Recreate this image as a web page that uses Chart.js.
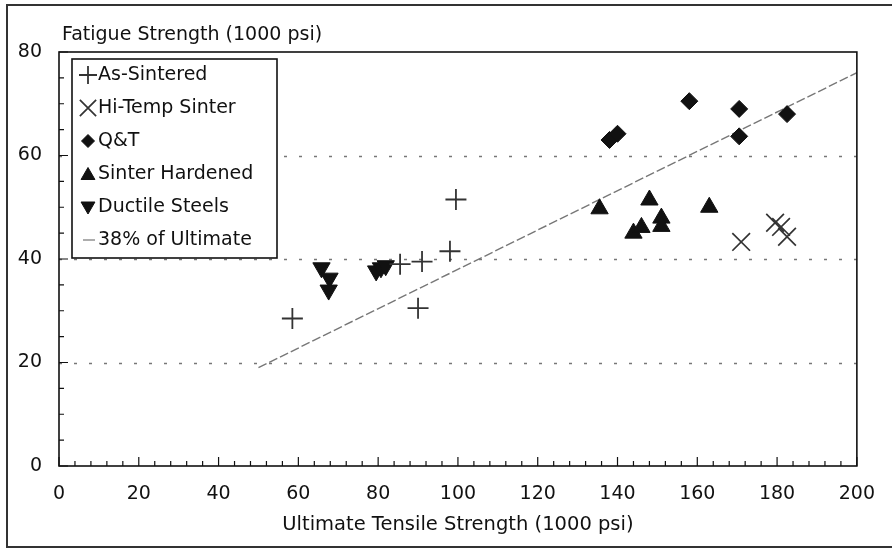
<!DOCTYPE html>
<html>
<head>
<meta charset="utf-8">
<script src="https://cdn.jsdelivr.net/npm/chart.js@4/dist/chart.umd.min.js"></script>
<style>
  html, body { margin: 0; padding: 0; background: #fff; }
  #wrap { width: 892px; height: 550px; }
</style>
</head>
<body>
<div id="wrap"><canvas id="fatigue" width="892" height="550"></canvas></div>
<script>
// data (1000 psi)
const asSinteredX = [58.5, 85.5, 91, 90, 98, 99.5];
const asSinteredY = [28.5, 39, 39.5, 30.5, 41.5, 51.5];
const hiTempX = [171, 179.5, 181, 182.5];
const hiTempY = [43.3, 47, 46.2, 44.3];
const qtX = [138, 140, 158, 170.5, 170.5, 182.5];
const qtY = [63, 64.2, 70.5, 69, 63.7, 68];
const sinterX = [135.5, 144, 146, 148, 151, 151, 163];
const sinterY = [49.7, 45, 46.1, 51.4, 47.9, 46.3, 50];
const ductileX = [65.8, 67.8, 67.6, 79.5, 80.7, 81.9];
const ductileY = [38.3, 36.3, 34, 37.7, 38.3, 38.7];
const ultimateX = [50, 200];
const ultimateY = [19, 76];

const xTicks = [0, 20, 40, 60, 80, 100, 120, 140, 160, 180, 200];
const yTicks = [0, 20, 40, 60, 80];

const FONT = '"DejaVu Sans", "Liberation Sans", Arial, sans-serif';
const INK = '#111';

function pts(xs, ys) {
    return xs.map((x, i) => ({ x: x, y: ys[i] }));
}

const markStyle = {
    plus:  { pointStyle: 'cross', radius: 10.5, legendRadius: 9, borderColor: '#333', backgroundColor: 'transparent', borderWidth: 1.8 },
    ex:    { pointStyle: 'crossRot', radius: 12.5, legendRadius: 11.5, borderColor: '#333', backgroundColor: 'transparent', borderWidth: 1.7 },
    diam:  { pointStyle: 'rectRot', radius: 8.5, legendRadius: 6.5, borderColor: '#111', backgroundColor: '#111', borderWidth: 1 },
    up:    { pointStyle: 'triangle', radius: 10, legendRadius: 8, borderColor: '#111', backgroundColor: '#111', borderWidth: 1 },
    down:  { pointStyle: 'triangle', rotation: 180, radius: 10, legendRadius: 8, borderColor: '#111', backgroundColor: '#111', borderWidth: 1 }
};

function scatterSet(label, xs, ys, m) {
    return {
        type: 'scatter',
        label: label,
        data: pts(xs, ys),
        pointStyle: m.pointStyle,
        rotation: m.rotation || 0,
        pointRadius: m.radius,
        pointBorderColor: m.borderColor,
        pointBackgroundColor: m.backgroundColor,
        pointBorderWidth: m.borderWidth,
        borderColor: m.borderColor,
        backgroundColor: m.backgroundColor,
        legendMark: m
    };
}

const datasets = [
    scatterSet('As-Sintered', asSinteredX, asSinteredY, markStyle.plus),
    scatterSet('Hi-Temp Sinter', hiTempX, hiTempY, markStyle.ex),
    scatterSet('Q\u0026T', qtX, qtY, markStyle.diam),
    scatterSet('Sinter Hardened', sinterX, sinterY, markStyle.up),
    scatterSet('Ductile Steels', ductileX, ductileY, markStyle.down),
    {
        type: 'line',
        label: '38% of Ultimate',
        data: pts(ultimateX, ultimateY),
        borderColor: '#777',
        borderWidth: 1.4,
        borderDash: [9, 3],
        pointRadius: 0,
        fill: false,
        tension: 0,
        order: 10
    }
];

// frame, dotted grid, inward ticks, inside legend and the top-left axis title
const decorPlugin = {
    id: 'decor',
    beforeDraw(chart) {
        const ctx = chart.ctx;
        ctx.save();
        ctx.fillStyle = '#fff';
        ctx.fillRect(0, 0, chart.width, chart.height);
        ctx.strokeStyle = '#333';
        ctx.lineWidth = 2;
        ctx.strokeRect(7, 5, chart.width + 10, 542);
        ctx.restore();
    },
    beforeDatasetsDraw(chart) {
        const ctx = chart.ctx;
        const a = chart.chartArea;
        const ys = chart.scales.y;
        ctx.save();
        ctx.strokeStyle = '#777';
        ctx.lineWidth = 1.5;
        ctx.setLineDash([3, 12]);
        ys.ticks.forEach(t => {
            if (t.value <= ys.min || t.value >= ys.max) return;
            const py = Math.round(ys.getPixelForValue(t.value)) + 0.5;
            ctx.beginPath();
            ctx.moveTo(a.left, py);
            ctx.lineTo(a.right, py);
            ctx.stroke();
        });
        ctx.restore();
    },
    afterDraw(chart) {
        const ctx = chart.ctx;
        const a = chart.chartArea;
        const xs = chart.scales.x;
        const ys = chart.scales.y;
        ctx.save();

        // plot frame
        ctx.strokeStyle = '#111';
        ctx.lineWidth = 1.6;
        ctx.strokeRect(a.left, a.top, a.right - a.left, a.bottom - a.top);

        // inward tick marks
        ctx.lineWidth = 1.2;
        ctx.beginPath();
        for (let v = xs.min; v <= xs.max; v += 4) {
            const px = xs.getPixelForValue(v);
            const len = v % 20 === 0 ? 9 : 5;
            ctx.moveTo(px, a.bottom);
            ctx.lineTo(px, a.bottom - len);
        }
        for (let v = ys.min; v <= ys.max; v += 5) {
            const py = ys.getPixelForValue(v);
            const len = v % 20 === 0 ? 9 : 5;
            ctx.moveTo(a.left, py);
            ctx.lineTo(a.left + len, py);
        }
        ctx.stroke();

        // y axis title, written across the top
        ctx.fillStyle = INK;
        ctx.font = '19px ' + FONT;
        ctx.textAlign = 'left';
        ctx.textBaseline = 'middle';
        ctx.fillText('Fatigue Strength (1000 psi)', a.left + 3, a.top - 17);

        // legend box
        const bx = a.left + 13, by = a.top + 7, bw = 205, bh = 199;
        ctx.fillStyle = '#fff';
        ctx.fillRect(bx, by, bw, bh);
        ctx.strokeStyle = '#111';
        ctx.lineWidth = 1.6;
        ctx.strokeRect(bx, by, bw, bh);

        const rowH = 33;
        chart.data.datasets.forEach((ds, i) => {
            const cy = by + 16 + i * rowH;
            const mx = bx + 16;
            const m = ds.legendMark;
            if (m) {
                ctx.strokeStyle = m.borderColor;
                ctx.fillStyle = m.backgroundColor;
                ctx.lineWidth = m.borderWidth;
                Chart.helpers.drawPoint(ctx, {
                    pointStyle: m.pointStyle,
                    rotation: m.rotation || 0,
                    radius: m.legendRadius,
                    borderWidth: m.borderWidth
                }, mx, cy + (m.pointStyle === 'triangle' ? (m.rotation ? -1 : 1.5) : 0));
            } else {
                ctx.strokeStyle = ds.borderColor;
                ctx.lineWidth = 1.2;
                ctx.setLineDash([]);
                ctx.beginPath();
                ctx.moveTo(mx - 5, cy);
                ctx.lineTo(mx + 7, cy);
                ctx.stroke();
            }
            ctx.fillStyle = INK;
            ctx.font = '19px ' + FONT;
            ctx.textAlign = 'left';
            ctx.textBaseline = 'middle';
            ctx.fillText(ds.label, bx + 26, cy);
        });
        ctx.restore();
    }
};

const ctx = document.getElementById('fatigue').getContext('2d');
new Chart(ctx, {
    data: { datasets: datasets },
    options: {
        responsive: false,
        animation: false,
        maintainAspectRatio: false,
        layout: { padding: { top: 52, right: 25, left: 0, bottom: 0 } },
        plugins: {
            legend: { display: false },
            tooltip: { enabled: false },
            title: { display: false }
        },
        scales: {
            x: {
                type: 'linear',
                min: 0,
                max: 200,
                afterBuildTicks: s => { s.ticks = xTicks.map(v => ({ value: v })); },
                afterFit: s => { s.height = 84; },
                grid: { display: false, drawTicks: false },
                border: { display: false },
                ticks: {
                    color: INK,
                    padding: 17,
                    maxRotation: 0,
                    font: { family: FONT, size: 19 }
                },
                title: {
                    display: true,
                    text: 'Ultimate Tensile Strength (1000 psi)',
                    color: INK,
                    padding: { top: 0, bottom: 13 },
                    font: { family: FONT, size: 19.5 }
                }
            },
            y: {
                type: 'linear',
                min: 0,
                max: 80,
                afterBuildTicks: s => { s.ticks = yTicks.map(v => ({ value: v })); },
                afterFit: s => { s.width = 59; },
                grid: { display: false, drawTicks: false },
                border: { display: false },
                ticks: {
                    color: INK,
                    padding: 17,
                    font: { family: FONT, size: 19 }
                }
            }
        }
    },
    plugins: [decorPlugin]
});
</script>
</body>
</html>
